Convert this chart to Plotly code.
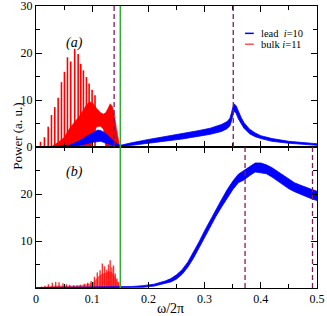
import plotly.graph_objects as go
from plotly.subplots import make_subplots

# ---------------- data ----------------
# panel (a): bulk i=11 comb spikes
bulk_a_spike_x = [0.008, 0.015, 0.0217, 0.0275, 0.0334, 0.0394, 0.0453, 0.0506, 0.056, 0.0618,
                  0.0689, 0.075, 0.0796, 0.0844, 0.0897, 0.0945, 0.0998, 0.105]
bulk_a_spike_h = [1.1, 2.1, 4.3, 6.8, 8.5, 10.5, 13.8, 16.0, 19.1, 18.2,
                  20.9, 19.8, 17.7, 16.3, 14.9, 13.5, 12.2, 11.0]
# panel (a): bulk dense band (lower / upper envelope)
bulk_a_x  = [0.03, 0.04, 0.05, 0.06, 0.07, 0.08, 0.09, 0.095, 0.098, 0.102, 0.108, 0.115, 0.12, 0.124,
             0.128, 0.132, 0.136, 0.14, 0.143, 0.146, 0.149]
bulk_a_lo = [0, 0, 0, 0, 0, 0, 0, 0, 0, 3.0, 4.3, 4.4, 3.8, 0,
             0, 0, 0, 0, 0, 0, 0]
bulk_a_hi = [0.3, 1.0, 2.0, 4.0, 5.5, 7.0, 9.0, 9.6, 9.5, 9.2, 8.2, 7.3, 7.0, 7.3,
             8.2, 9.2, 8.6, 6.5, 4.0, 2.0, 0]
# panel (a): lead i=10 band
lead_a_x  = [0, 0.04, 0.06, 0.07, 0.08, 0.09, 0.1, 0.105, 0.11, 0.115, 0.12, 0.125, 0.13, 0.135,
             0.14, 0.145, 0.15, 0.155, 0.17, 0.2, 0.23, 0.26, 0.29, 0.31, 0.33, 0.34, 0.345,
             0.348, 0.352, 0.356, 0.36, 0.365, 0.37, 0.38, 0.39, 0.4, 0.42, 0.45, 0.48, 0.5]
lead_a_lo = [0, 0, 0.05, 0.2, 0.4, 0.7, 1.0, 1.1, 1.2, 1.2, 1.0, 0.8, 0.6, 0.4,
             0.2, 0.05, 0.0, 0.1, 0.35, 0.8, 1.2, 1.7, 2.3, 2.7, 3.3, 3.9, 4.5,
             5.6, 7.6, 7.2, 6.0, 4.9, 4.0, 2.8, 2.2, 1.8, 1.2, 0.8, 0.5, 0.35]
lead_a_hi = [0.1, 0.15, 0.4, 0.9, 1.5, 2.3, 3.0, 3.4, 3.6, 3.5, 3.1, 2.8, 2.2, 1.6,
             1.0, 0.6, 0.35, 0.5, 0.9, 1.6, 2.2, 2.9, 3.5, 4.0, 4.8, 5.4, 6.1,
             7.4, 9.2, 8.8, 7.6, 6.3, 5.2, 3.8, 3.0, 2.4, 1.8, 1.2, 0.9, 0.7]

# panel (b): bulk spikes and band
bulk_b_spike_x = [0.010, 0.016, 0.022, 0.029, 0.035, 0.041, 0.048, 0.054, 0.060, 0.067, 0.073,
                  0.079, 0.086, 0.092, 0.098, 0.104, 0.109, 0.114, 0.118, 0.122, 0.126, 0.129,
                  0.132, 0.135, 0.138, 0.141, 0.144, 0.147]
bulk_b_spike_h = [0.3, 0.5, 0.8, 1.1, 1.3, 1.2, 1.0, 0.8, 0.7, 0.6, 0.6,
                  0.7, 0.9, 1.1, 1.5, 2.4, 3.3, 3.8, 5.2, 4.6, 3.9, 5.0,
                  5.9, 4.4, 4.8, 3.1, 2.0, 1.3]
bulk_b_x  = [0, 0.01, 0.02, 0.03, 0.04, 0.05, 0.06, 0.07, 0.08, 0.09, 0.1, 0.105, 0.11, 0.115,
             0.12, 0.125, 0.13, 0.135, 0.14, 0.145, 0.148, 0.15]
bulk_b_hi = [0, 0.15, 0.3, 0.4, 0.5, 0.45, 0.4, 0.45, 0.55, 0.7, 1.0, 1.5, 2.3, 2.8,
             3.0, 3.2, 3.5, 3.3, 2.5, 1.2, 0.4, 0]
bulk_b_lo = [0] * len(bulk_b_x)
# panel (b): lead band
lead_b_x  = [0, 0.15, 0.17, 0.19, 0.21, 0.23, 0.24, 0.25, 0.26, 0.27, 0.28, 0.29, 0.3, 0.31, 0.32,
             0.33, 0.34, 0.35, 0.36, 0.37, 0.38, 0.39, 0.4, 0.41, 0.42, 0.43, 0.44, 0.45,
             0.46, 0.47, 0.48, 0.49, 0.5]
lead_b_lo = [0, 0, 0.05, 0.15, 0.4, 0.9, 1.3, 1.9, 2.9, 4.4, 6.3, 8.5, 10.8, 13.0, 15.2,
             17.2, 19.2, 20.9, 22.4, 23.0, 23.9, 24.7, 24.5, 24.3, 23.6, 22.8, 21.9, 21.1,
             20.5, 20.0, 19.4, 19.0, 18.6]
lead_b_hi = [0.1, 0.15, 0.3, 0.5, 0.8, 1.5, 2.0, 2.8, 3.9, 5.5, 7.5, 9.8, 12.2, 14.5, 16.8,
             18.8, 20.9, 22.7, 24.2, 25.0, 25.8, 26.6, 26.6, 26.2, 25.6, 24.8, 23.9, 23.1,
             22.4, 21.9, 21.4, 21.0, 20.6]

vlines_a = [0.139, 0.351]
vlines_b = [0.372, 0.492]
green_x = 0.15

FONT = "Liberation Serif"
BLUE = "#0000ff"
RED = "#ff0000"
PURPLE = "#801a5a"
GREEN = "#33aa33"

fig = make_subplots(rows=2, cols=1, shared_xaxes=True, vertical_spacing=0)


def spikes(xs, hs):
    sx, sy = [], []
    for x, h in zip(xs, hs):
        sx += [x, x, None]
        sy += [0, h, None]
    return sx, sy


def band(xs, lo, hi, color, fillcolor, row, lw=0.8):
    fig.add_trace(go.Scatter(x=xs, y=lo, mode="lines", line=dict(color=color, width=lw),
                             showlegend=False, hoverinfo="skip"), row=row, col=1)
    fig.add_trace(go.Scatter(x=xs, y=hi, mode="lines", line=dict(color=color, width=lw),
                             fill="tonexty", fillcolor=fillcolor,
                             showlegend=False, hoverinfo="skip"), row=row, col=1)


# panel (a)
band(bulk_a_x, bulk_a_lo, bulk_a_hi, RED, RED, 1, lw=0.6)
sx, sy = spikes(bulk_a_spike_x, bulk_a_spike_h)
fig.add_trace(go.Scatter(x=sx, y=sy, mode="lines", line=dict(color=RED, width=1.6),
                         showlegend=False, hoverinfo="skip"), row=1, col=1)
band(lead_a_x, lead_a_lo, lead_a_hi, BLUE, BLUE, 1)

# panel (b)
band(bulk_b_x, bulk_b_lo, bulk_b_hi, "rgba(255,60,60,0.8)", "rgba(255,60,60,0.8)", 2, lw=0.5)
sx, sy = spikes(bulk_b_spike_x, bulk_b_spike_h)
fig.add_trace(go.Scatter(x=sx, y=sy, mode="lines", line=dict(color="rgba(255,0,0,0.8)", width=1.4),
                         showlegend=False, hoverinfo="skip"), row=2, col=1)
band(lead_b_x, lead_b_lo, lead_b_hi, BLUE, BLUE, 2)

# vertical reference lines
for v in vlines_a:
    fig.add_shape(type="line", x0=v, x1=v, y0=0, y1=1, xref="x", yref="y domain",
                  line=dict(color=PURPLE, width=1.3, dash="5px,3px"))
for v in vlines_b:
    fig.add_shape(type="line", x0=v, x1=v, y0=0, y1=1, xref="x2", yref="y2 domain",
                  line=dict(color=PURPLE, width=1.3, dash="5px,3px"))
fig.add_shape(type="line", x0=green_x, x1=green_x, y0=0, y1=1, xref="x", yref="y domain",
              line=dict(color=GREEN, width=1.5))
fig.add_shape(type="line", x0=green_x, x1=green_x, y0=0, y1=1, xref="x2", yref="y2 domain",
              line=dict(color=GREEN, width=1.5))

axis_common = dict(showline=True, linecolor="black", linewidth=1, mirror="ticks",
                   ticks="inside", tickcolor="black", ticklen=6, tickwidth=1,
                   showgrid=False, zeroline=False, ticklabeloverflow="allow", automargin=False,
                   tickfont=dict(family=FONT, size=12, color="black"))

fig.update_xaxes(range=[0, 0.5], dtick=0.1, tick0=0,
                 minor=dict(dtick=0.05, ticks="inside", ticklen=4, tickcolor="black", showgrid=False),
                 **axis_common)
fig.update_xaxes(showticklabels=False, row=1, col=1)
fig.update_yaxes(range=[0, 30], tickvals=[0, 10, 20, 30],
                 minor=dict(tickvals=[5, 15, 25], ticks="inside", ticklen=4, tickcolor="black", showgrid=False),
                 **axis_common)
fig.update_yaxes(tickvals=[10, 20], row=2, col=1)

# legend (drawn manually to match)
leg = [("lead\u00a0\u00a0<i>i</i>=10", BLUE, 0.903), ("bulk\u00a0<i>i</i>=11", "#ff5050", 0.8645)]
for text, col, yy in leg:
    fig.add_shape(type="line", xref="paper", yref="paper", x0=0.744, x1=0.775, y0=yy, y1=yy,
                  line=dict(color=col, width=1.5))
    fig.add_annotation(xref="paper", yref="paper", x=0.794, y=yy, text=text, showarrow=False,
                       xanchor="left", yanchor="middle", font=dict(family=FONT, size=10.5, color="black"))

fig.add_annotation(xref="paper", yref="paper", x=0.0995, y=0.903, text="<i>(a)</i>", showarrow=False,
                   font=dict(family=FONT, size=14, color="black"))
fig.add_annotation(xref="paper", yref="paper", x=0.0995, y=0.413, text="<i>(b)</i>", showarrow=False,
                   font=dict(family=FONT, size=14, color="black"))
fig.add_annotation(xref="paper", yref="paper", x=-0.101, y=0.537, text="Power (a. u.)", showarrow=False,
                   textangle=-90, font=dict(family=FONT, size=13, color="black"))
fig.add_annotation(xref="paper", yref="paper", x=0.478, y=-0.071, text="ω/2π", showarrow=False,
                   yanchor="middle", font=dict(family=FONT, size=14, color="black"))

fig.update_layout(width=327, height=316, margin=dict(l=35.5, r=10, t=6, b=28.3, autoexpand=False),
                  plot_bgcolor="white", paper_bgcolor="white", showlegend=False)

fig.write_html("out.html", config={"displayModeBar": False},
               post_script="document.body.style.margin='0';document.body.style.overflow='hidden';")
